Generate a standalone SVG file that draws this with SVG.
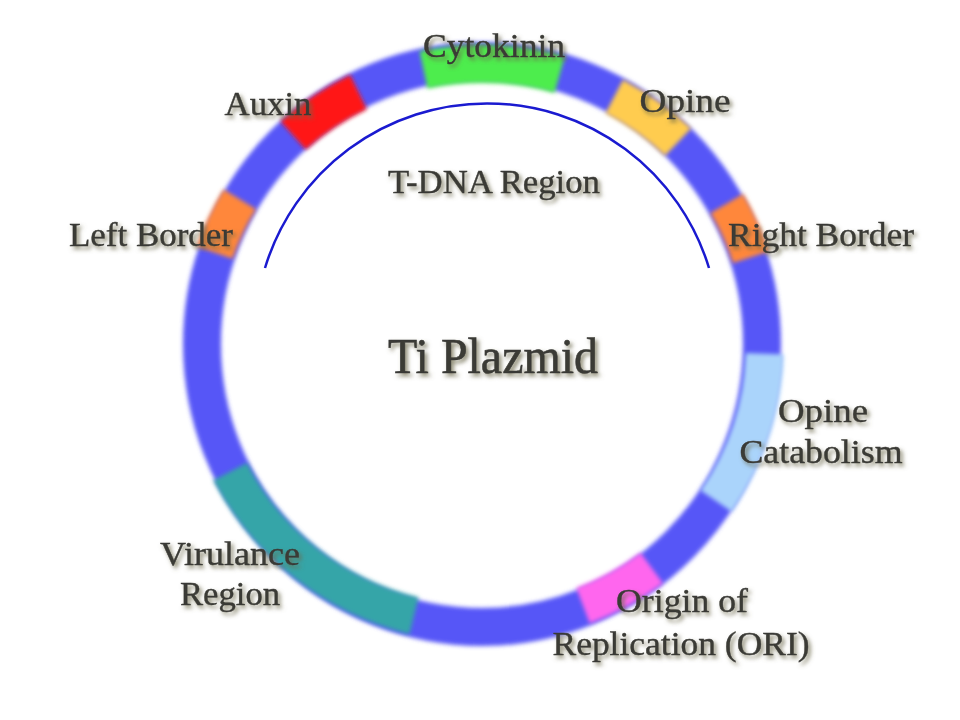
<svg xmlns="http://www.w3.org/2000/svg" width="960" height="720" viewBox="0 0 960 720">
  <defs>
    <filter id="soft" x="-20%" y="-20%" width="140%" height="140%">
      <feGaussianBlur stdDeviation="2.2"/>
    </filter>
    <filter id="shadow" x="-10%" y="-30%" width="130%" height="170%">
      <feDropShadow dx="2.5" dy="3" stdDeviation="2" flood-color="#6a6848" flood-opacity="0.8"/>
    </filter>
  </defs>
  <style>
    .seg { fill: none; stroke-width: 38; }
    .lbl { font-family: "Liberation Serif", "DejaVu Serif", serif; font-size: 34px; fill: #3a3a36; stroke: #3a3a36; stroke-width: 0.4; text-anchor: middle; filter: url(#shadow); }
    .big { font-size: 50px; stroke-width: 0.6; }
  </style>
  <rect width="960" height="720" fill="#ffffff"/>

  <g id="plasmid-ring">
    <ellipse class="seg" cx="482" cy="344" rx="280" ry="283" stroke="#5757f7" filter="url(#soft)"/>
  </g>

  <g id="cytokinin">
    <ellipse class="seg" cx="482" cy="344" rx="280" ry="283" pathLength="360" transform="rotate(-90 482 344)" stroke="#4ded4d" stroke-dasharray="28 332" stroke-dashoffset="12" filter="url(#soft)"/>
    <text class="lbl" x="494" y="57" textLength="142" lengthAdjust="spacingAndGlyphs">Cytokinin</text>
  </g>
  <g id="opine">
    <ellipse class="seg" cx="482" cy="344" rx="280" ry="283" pathLength="360" transform="rotate(-90 482 344)" stroke="#ffcc50" stroke-dasharray="16 344" stroke-dashoffset="-28" filter="url(#soft)"/>
    <text class="lbl" x="685" y="112" textLength="91" lengthAdjust="spacingAndGlyphs">Opine</text>
  </g>
  <g id="right-border">
    <ellipse class="seg" cx="482" cy="344" rx="280" ry="283" pathLength="360" transform="rotate(-90 482 344)" stroke="#ff873a" stroke-dasharray="12 348" stroke-dashoffset="-60" filter="url(#soft)"/>
    <text class="lbl" x="821" y="246" textLength="186" lengthAdjust="spacingAndGlyphs">Right Border</text>
  </g>
  <g id="opine-catabolism">
    <ellipse class="seg" cx="482" cy="344" rx="280" ry="283" pathLength="360" transform="rotate(-90 482 344)" stroke="#aad4fb" stroke-dasharray="32 328" stroke-dashoffset="-92" filter="url(#soft)"/>
    <text class="lbl" x="823" y="422" textLength="90" lengthAdjust="spacingAndGlyphs">Opine</text>
    <text class="lbl" x="821" y="463" textLength="163" lengthAdjust="spacingAndGlyphs">Catabolism</text>
  </g>
  <g id="ori">
    <ellipse class="seg" cx="482" cy="344" rx="280" ry="283" pathLength="360" transform="rotate(-90 482 344)" stroke="#ff66ee" stroke-dasharray="16 344" stroke-dashoffset="-143" filter="url(#soft)"/>
    <text class="lbl" x="682" y="612" textLength="132" lengthAdjust="spacingAndGlyphs">Origin of</text>
    <text class="lbl" x="681" y="655" textLength="257" lengthAdjust="spacingAndGlyphs">Replication (ORI)</text>
  </g>
  <g id="virulence-region">
    <ellipse class="seg" cx="482" cy="344" rx="280" ry="283" pathLength="360" transform="rotate(-90 482 344)" stroke="#35a5a8" stroke-dasharray="49 311" stroke-dashoffset="-194" filter="url(#soft)"/>
    <text class="lbl" x="230" y="565" textLength="140" lengthAdjust="spacingAndGlyphs">Virulance</text>
    <text class="lbl" x="230" y="605" textLength="100" lengthAdjust="spacingAndGlyphs">Region</text>
  </g>
  <g id="left-border">
    <ellipse class="seg" cx="482" cy="344" rx="280" ry="283" pathLength="360" transform="rotate(-90 482 344)" stroke="#ff873a" stroke-dasharray="12 348" stroke-dashoffset="-289" filter="url(#soft)"/>
    <text class="lbl" x="151" y="246" textLength="164" lengthAdjust="spacingAndGlyphs">Left Border</text>
  </g>
  <g id="auxin">
    <ellipse class="seg" cx="482" cy="344" rx="280" ry="283" pathLength="360" transform="rotate(-90 482 344)" stroke="#ff1818" stroke-dasharray="16 344" stroke-dashoffset="-318" filter="url(#soft)"/>
    <text class="lbl" x="268" y="115" textLength="87" lengthAdjust="spacingAndGlyphs">Auxin</text>
  </g>

  <g id="connectors">
    <path id="tdna-arc" d="M 265 268 A 232 232 0 0 1 709 268" fill="none" stroke="#1a1ad0" stroke-width="2.5"/>
  </g>

  <g id="tdna-region">
    <text class="lbl" x="494" y="193" textLength="212" lengthAdjust="spacingAndGlyphs">T-DNA Region</text>
  </g>
  <g id="ti-plasmid">
    <text class="lbl big" x="493" y="373" textLength="210" lengthAdjust="spacingAndGlyphs">Ti Plazmid</text>
  </g>
</svg>
